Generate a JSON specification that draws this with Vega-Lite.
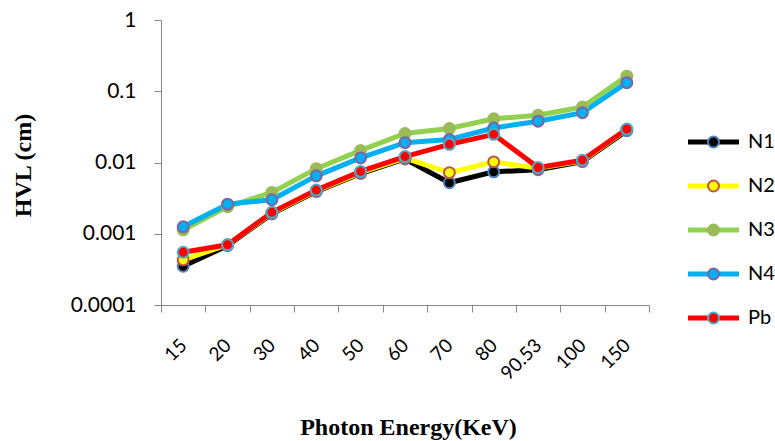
{
  "$schema": "https://vega.github.io/schema/vega-lite/v6.json",
  "width": 488,
  "height": 285,
  "autosize": {"type": "none"},
  "padding": {"left": 161, "top": 20, "right": 126, "bottom": 136},
  "background": "white",
  "config": {
    "view": {"stroke": null},
    "axis": {"grid": false, "domainColor": "#868686", "tickColor": "#868686", "labelFont": "Lato", "labelColor": "#000000"}
  },
  "data": {
    "values": [
      {"series": "N1", "energy": "15", "hvl": 0.00035},
      {"series": "N1", "energy": "20", "hvl": 0.00068},
      {"series": "N1", "energy": "30", "hvl": 0.0019},
      {"series": "N1", "energy": "40", "hvl": 0.0039},
      {"series": "N1", "energy": "50", "hvl": 0.0070},
      {"series": "N1", "energy": "60", "hvl": 0.0112},
      {"series": "N1", "energy": "70", "hvl": 0.0052},
      {"series": "N1", "energy": "80", "hvl": 0.0074},
      {"series": "N1", "energy": "90.53", "hvl": 0.0079},
      {"series": "N1", "energy": "100", "hvl": 0.0103},
      {"series": "N1", "energy": "150", "hvl": 0.0279},
      {"series": "N2", "energy": "15", "hvl": 0.00043},
      {"series": "N2", "energy": "20", "hvl": 0.0007},
      {"series": "N2", "energy": "30", "hvl": 0.00195},
      {"series": "N2", "energy": "40", "hvl": 0.0040},
      {"series": "N2", "energy": "50", "hvl": 0.0072},
      {"series": "N2", "energy": "60", "hvl": 0.0115},
      {"series": "N2", "energy": "70", "hvl": 0.0072},
      {"series": "N2", "energy": "80", "hvl": 0.0102},
      {"series": "N2", "energy": "90.53", "hvl": 0.0083},
      {"series": "N2", "energy": "100", "hvl": 0.0105},
      {"series": "N2", "energy": "150", "hvl": 0.029},
      {"series": "N3", "energy": "15", "hvl": 0.00113},
      {"series": "N3", "energy": "20", "hvl": 0.0024},
      {"series": "N3", "energy": "30", "hvl": 0.0038},
      {"series": "N3", "energy": "40", "hvl": 0.0082},
      {"series": "N3", "energy": "50", "hvl": 0.0148},
      {"series": "N3", "energy": "60", "hvl": 0.0255},
      {"series": "N3", "energy": "70", "hvl": 0.030},
      {"series": "N3", "energy": "80", "hvl": 0.041},
      {"series": "N3", "energy": "90.53", "hvl": 0.046},
      {"series": "N3", "energy": "100", "hvl": 0.060},
      {"series": "N3", "energy": "150", "hvl": 0.163},
      {"series": "N4", "energy": "15", "hvl": 0.00125},
      {"series": "N4", "energy": "20", "hvl": 0.0026},
      {"series": "N4", "energy": "30", "hvl": 0.0030},
      {"series": "N4", "energy": "40", "hvl": 0.0065},
      {"series": "N4", "energy": "50", "hvl": 0.0116},
      {"series": "N4", "energy": "60", "hvl": 0.019},
      {"series": "N4", "energy": "70", "hvl": 0.021},
      {"series": "N4", "energy": "80", "hvl": 0.0305},
      {"series": "N4", "energy": "90.53", "hvl": 0.038},
      {"series": "N4", "energy": "100", "hvl": 0.050},
      {"series": "N4", "energy": "150", "hvl": 0.132},
      {"series": "Pb", "energy": "15", "hvl": 0.00055},
      {"series": "Pb", "energy": "20", "hvl": 0.0007},
      {"series": "Pb", "energy": "30", "hvl": 0.0020},
      {"series": "Pb", "energy": "40", "hvl": 0.0041},
      {"series": "Pb", "energy": "50", "hvl": 0.0075},
      {"series": "Pb", "energy": "60", "hvl": 0.0121},
      {"series": "Pb", "energy": "70", "hvl": 0.018},
      {"series": "Pb", "energy": "80", "hvl": 0.0248},
      {"series": "Pb", "energy": "90.53", "hvl": 0.0085},
      {"series": "Pb", "energy": "100", "hvl": 0.0108},
      {"series": "Pb", "energy": "150", "hvl": 0.0295}
    ]
  },
  "encoding": {
    "x": {
      "field": "energy", "type": "nominal", "sort": null,
      "scale": {"type": "band", "paddingInner": 0, "paddingOuter": 0},
      "axis": {
        "title": "Photon Energy(KeV)", "titleFont": "Liberation Serif", "titleFontSize": 24, "titleFontWeight": "bold", "titleColor": "#000000",
        "titleX": 247, "titleY": 122, "titleAlign": "center", "titleBaseline": "middle",
        "labelAngle": -45, "labelAlign": "right", "labelBaseline": "middle", "labelFontSize": 19, "labelPadding": 30,
        "labelOverlap": false, "tickSize": 7, "tickBand": "extent"
      }
    },
    "y": {
      "field": "hvl", "type": "quantitative",
      "scale": {"type": "log", "domain": [0.0001, 1], "nice": false},
      "axis": {
        "title": "HVL (cm)", "titleFont": "Liberation Serif", "titleFontSize": 24, "titleFontWeight": "bold", "titleColor": "#000000",
        "titleX": -138, "titleY": 145, "titleAngle": 270, "titleAlign": "center", "titleBaseline": "middle",
        "values": [0.0001, 0.001, 0.01, 0.1, 1], "format": "~g", "labelFontSize": 21, "labelPadding": 18, "tickSize": 7,
        "labelOverlap": false
      }
    }
  },
  "layer": [
    {
      "mark": {"type": "line", "strokeWidth": 5},
      "encoding": {
        "color": {
          "field": "series", "type": "nominal",
          "scale": {"range": ["#000000", "#ffff00", "#92d050", "#00b0f0", "#ff0000"]},
          "legend": {
            "orient": "none", "legendX": 542.5, "legendY": 112, "title": null, "padding": 0,
            "symbolType": "M-4.25,0H4.25", "symbolSize": 144, "symbolStrokeWidth": 5,
            "labelExpr": "''", "labelFontSize": 20, "rowPadding": 24, "zindex": 0
          }
        }
      }
    },
    {
      "mark": {"type": "point", "shape": "circle", "filled": true, "opacity": 1, "size": 120, "strokeWidth": 2},
      "encoding": {
        "fill": {
          "field": "series", "type": "nominal",
          "scale": {"domain": ["N1", "N2", "N3", "N4", "Pb"], "range": ["#000000", "#ffff00", "#9bbb59", "#00b0f0", "#ff0000"]},
          "legend": {
            "orient": "none", "legendX": 542.5, "legendY": 112, "title": null, "padding": 0,
            "symbolType": "circle", "symbolSize": 120, "symbolStrokeWidth": 2, "symbolOpacity": 1,
            "labelFont": "Lato", "labelFontSize": 20, "labelColor": "#000000", "labelOffset": 24.5, "rowPadding": 24, "zindex": 1
          }
        },
        "stroke": {
          "field": "series", "type": "nominal",
          "scale": {"domain": ["N1", "N2", "N3", "N4", "Pb"], "range": ["#4f81bd", "#c0504d", "#9bbb59", "#8064a2", "#4bacc6"]},
          "legend": {
            "orient": "none", "legendX": 542.5, "legendY": 112, "title": null, "padding": 0,
            "symbolType": "circle", "symbolSize": 120, "symbolStrokeWidth": 2, "symbolOpacity": 1,
            "labelFont": "Lato", "labelFontSize": 20, "labelColor": "#000000", "labelOffset": 24.5, "rowPadding": 24, "zindex": 1
          }
        }
      }
    }
  ]
}
